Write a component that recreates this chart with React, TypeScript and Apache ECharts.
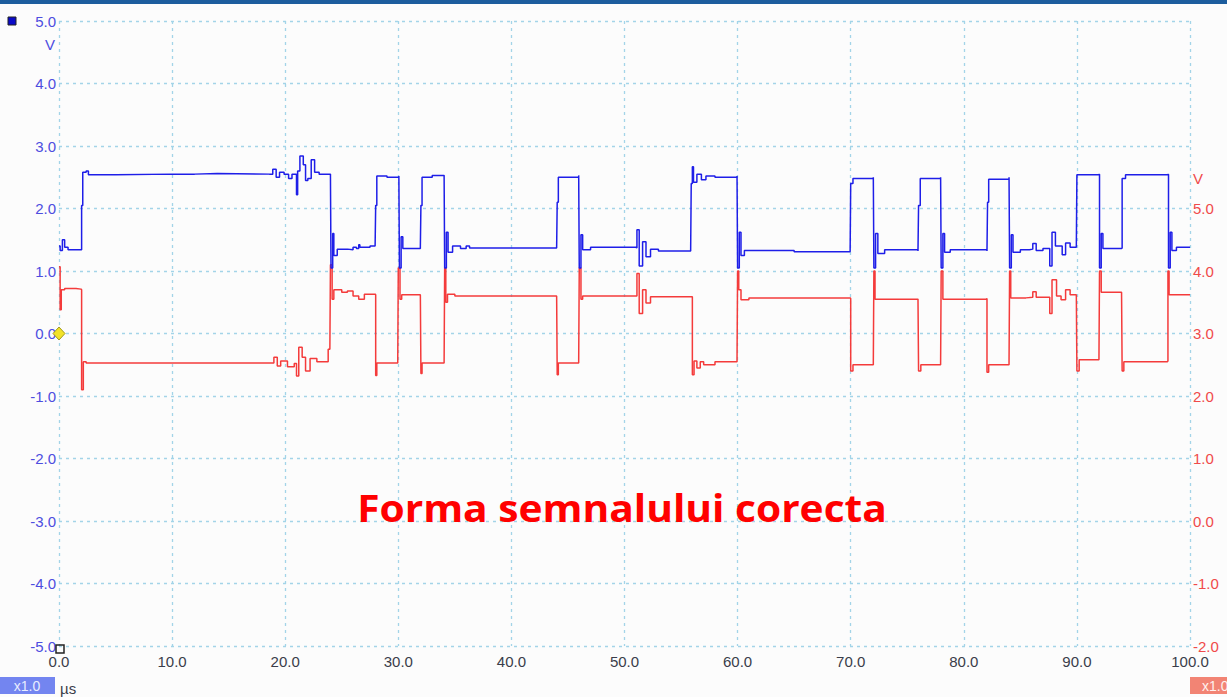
import React, { useEffect, useRef } from "react";
import * as echarts from "echarts";

// time ticks (µs) and voltage ticks
const timeTicks = [0, 10, 20, 30, 40, 50, 60, 70, 80, 90, 100];
const title = "Forma semnalului corecta";

// Channel A (blue, left axis, V): [time µs, volts]
const channelA: [number, number][] = [
  [0.0, 1.40], [0.1, 1.33], [0.3, 1.50], [0.5, 1.38], [0.8, 1.34], [2.0, 1.35],
  [2.0, 2.05], [2.1, 2.05], [2.1, 2.58], [2.4, 2.60], [2.6, 2.54], [5.0, 2.55],
  [10.0, 2.55], [12.0, 2.56], [14.0, 2.55], [18.6, 2.55], [18.9, 2.63], [19.2, 2.50],
  [19.5, 2.58], [19.9, 2.55], [20.3, 2.48], [20.6, 2.55], [21.0, 2.22], [21.1, 2.60],
  [21.3, 2.84], [21.6, 2.70], [21.8, 2.45], [22.0, 2.48], [22.3, 2.78], [22.6, 2.58],
  [23.0, 2.55], [24.0, 2.55], [24.05, 1.05], [24.2, 1.60], [24.3, 1.25], [24.6, 1.35],
  [25.5, 1.34], [26.0, 1.38], [26.3, 1.36], [26.5, 1.42], [26.6, 1.38], [27.5, 1.40],
  [27.95, 1.40], [28.0, 2.05], [28.1, 2.52], [29.0, 2.50], [30.05, 2.52], [30.1, 1.05],
  [30.25, 1.55], [30.4, 1.36], [31.95, 1.38], [32.0, 2.05], [32.1, 2.50], [33.0, 2.53],
  [34.05, 2.53], [34.1, 1.05], [34.25, 1.62], [34.4, 1.30], [34.8, 1.40], [35.5, 1.36],
  [36.0, 1.40], [36.3, 1.37], [44.0, 1.37], [44.05, 2.10], [44.15, 2.50], [45.95, 2.53],
  [46.0, 1.05], [46.15, 1.58], [46.3, 1.34], [47.0, 1.38], [51.0, 1.37], [51.1, 1.66],
  [51.3, 1.08], [51.6, 1.47], [51.9, 1.23], [52.3, 1.35], [53.0, 1.32], [55.85, 1.34],
  [55.9, 2.40], [56.0, 2.67], [56.1, 2.42], [56.4, 2.55], [56.8, 2.46], [57.2, 2.52],
  [58.0, 2.50], [59.95, 2.52], [60.0, 1.05], [60.15, 1.62], [60.3, 1.25], [60.6, 1.33],
  [65.0, 1.31], [69.95, 1.31], [70.0, 2.40], [70.2, 2.48], [72.0, 2.50], [72.05, 1.05],
  [72.2, 1.60], [72.4, 1.28], [73.0, 1.34], [75.95, 1.32], [76.0, 2.05], [76.15, 2.48],
  [77.95, 2.50], [78.0, 1.05], [78.15, 1.60], [78.3, 1.30], [78.8, 1.34], [82.05, 1.32],
  [82.1, 2.10], [82.2, 2.47], [84.0, 2.50], [84.05, 1.05], [84.2, 1.58], [84.35, 1.30],
  [85.0, 1.34], [85.8, 1.35], [86.1, 1.44], [86.4, 1.33], [87.0, 1.36], [87.6, 1.08],
  [87.8, 1.62], [88.1, 1.40], [88.7, 1.26], [89.0, 1.45], [89.4, 1.38], [89.95, 1.38],
  [90.0, 2.54], [91.95, 2.55], [92.0, 1.05], [92.15, 1.60], [92.3, 1.36], [93.95, 1.37],
  [94.0, 2.48], [94.3, 2.54], [98.05, 2.55], [98.1, 1.05], [98.25, 1.62], [98.4, 1.33],
  [98.8, 1.38], [100.0, 1.37],
];

// Channel B (red, right axis, V): [time µs, volts]
const channelB: [number, number][] = [
  [0.0, 4.07], [0.1, 3.38], [0.2, 3.70], [0.5, 3.72], [1.5, 3.71], [1.95, 3.70],
  [2.0, 2.10], [2.15, 2.55], [2.4, 2.53], [5.0, 2.53], [18.6, 2.53], [19.0, 2.62],
  [19.3, 2.48], [19.6, 2.56], [20.2, 2.47], [20.8, 2.52], [21.0, 2.32], [21.2, 2.78],
  [21.5, 2.62], [21.8, 2.40], [22.2, 2.60], [22.8, 2.55], [23.7, 2.55], [23.8, 2.75],
  [23.95, 2.75], [24.0, 4.10], [24.15, 3.55], [24.3, 3.70], [25.0, 3.66], [25.5, 3.68],
  [26.0, 3.60], [26.5, 3.55], [27.0, 3.63], [27.95, 3.62], [28.0, 2.33], [28.1, 2.53],
  [29.95, 2.56], [30.0, 4.05], [30.15, 3.55], [30.3, 3.62], [31.95, 3.62], [32.0, 2.36],
  [32.1, 2.53], [34.05, 2.55], [34.1, 4.05], [34.2, 3.50], [34.35, 3.63], [35.0, 3.60],
  [44.0, 3.60], [44.05, 2.34], [44.15, 2.53], [45.95, 2.55], [46.0, 4.05], [46.15, 3.55],
  [46.3, 3.60], [51.0, 3.60], [51.1, 3.96], [51.3, 3.32], [51.6, 3.70], [51.9, 3.49],
  [52.3, 3.59], [55.9, 3.59], [56.0, 2.34], [56.15, 2.56], [56.4, 2.45], [56.7, 2.55],
  [57.0, 2.50], [58.0, 2.55], [59.95, 2.58], [60.0, 4.00], [60.1, 3.70], [60.3, 3.54],
  [61.0, 3.57], [69.95, 3.56], [70.0, 2.40], [70.2, 2.50], [72.0, 2.52], [72.05, 4.00],
  [72.15, 3.55], [75.95, 3.55], [76.0, 2.40], [76.2, 2.50], [77.95, 2.52], [78.0, 4.00],
  [78.15, 3.55], [82.0, 3.56], [82.05, 2.38], [82.2, 2.50], [84.0, 2.52], [84.05, 4.00],
  [84.15, 3.57], [85.5, 3.58], [86.1, 3.67], [86.4, 3.58], [87.6, 3.32], [87.8, 3.86],
  [88.2, 3.60], [88.6, 3.54], [89.0, 3.70], [89.4, 3.62], [89.95, 3.62], [90.0, 2.40],
  [90.2, 2.58], [91.95, 2.58], [92.0, 4.00], [92.15, 3.66], [93.95, 3.62], [94.0, 2.40],
  [94.15, 2.55], [98.0, 2.56], [98.05, 4.00], [98.15, 3.62], [100.0, 3.62],
];

const W = 1227;
const H = 697;

export default function App() {
  const ref = useRef<HTMLDivElement>(null);
  useEffect(() => {
    if (!ref.current) return;
    const chart = echarts.init(ref.current, undefined, { renderer: "svg" });
    const gridColor = "#a3d4e8";
    const font = "Liberation Sans, Arial, sans-serif";
    chart.setOption({
      animation: false,
      backgroundColor: "#fcfcfc",
      grid: { left: 59, right: 37, top: 21, bottom: 51, containLabel: false },
      xAxis: {
        type: "value",
        min: timeTicks[0],
        max: timeTicks[timeTicks.length - 1],
        interval: 10,
        axisLine: { show: false },
        axisTick: { show: false },
        axisLabel: {
          color: "#3a3d4a",
          fontSize: 15,
          fontFamily: font,
          margin: 8,
          formatter: (v: number) => v.toFixed(1),
        },
        splitLine: { show: true, lineStyle: { color: gridColor, type: [3, 4], width: 1.3 } },
      },
      yAxis: [
        {
          type: "value",
          min: -5,
          max: 5,
          interval: 1,
          axisLine: { show: false },
          axisTick: { show: false },
          axisLabel: {
            color: "#4d4de0",
            fontSize: 15,
            fontFamily: font,
            margin: 3,
            formatter: (v: number) => v.toFixed(1),
          },
          splitLine: { show: true, lineStyle: { color: gridColor, type: [3, 4], width: 1.3 } },
        },
        {
          type: "value",
          position: "right",
          min: -2,
          max: 8,
          interval: 1,
          axisLine: { show: false },
          axisTick: { show: false },
          splitLine: { show: false },
          axisLabel: {
            color: "#f04a4a",
            fontSize: 15,
            fontFamily: font,
            margin: 3,
            formatter: (v: number) => (v <= 5 ? v.toFixed(1) : ""),
          },
        },
      ],
      series: [
        {
          name: "B",
          type: "line",
          yAxisIndex: 1,
          data: channelB,
          step: "end",
          showSymbol: false,
          lineStyle: { color: "#f43b3b", width: 1.5 },
          itemStyle: { color: "#f43b3b" },
          z: 2,
        },
        {
          name: "A",
          type: "line",
          yAxisIndex: 0,
          data: channelA,
          step: "end",
          showSymbol: false,
          lineStyle: { color: "#1e1ee8", width: 1.5 },
          itemStyle: { color: "#1e1ee8" },
          z: 3,
        },
      ],
      graphic: [
        { type: "rect", shape: { x: 0, y: 0, width: W, height: 4 }, style: { fill: "#1d5d9e" } },
        {
          type: "rect",
          shape: { x: 8, y: 17, width: 8, height: 8 },
          style: { fill: "#0a0ac8", stroke: "#222", lineWidth: 1 },
        },
        {
          type: "text",
          x: 50,
          y: 44,
          style: { text: "V", fill: "#4d4de0", font: `15px ${font}`, align: "center", verticalAlign: "middle" },
        },
        {
          type: "text",
          x: 1193,
          y: 178,
          style: { text: "V", fill: "#f04a4a", font: `15px ${font}`, align: "left", verticalAlign: "middle" },
        },
        {
          type: "polygon",
          shape: { points: [[59, 327], [65, 333.5], [59, 340], [53, 333.5]] },
          style: { fill: "#f2e228", stroke: "#a09a20", lineWidth: 1 },
          z: 10,
        },
        {
          type: "rect",
          shape: { x: 56, y: 645, width: 8, height: 8 },
          style: { fill: "none", stroke: "#222", lineWidth: 1.5 },
          z: 10,
        },
        { type: "rect", shape: { x: 0, y: 677, width: 55, height: 17 }, style: { fill: "#7385f0" } },
        {
          type: "text",
          x: 27,
          y: 686,
          style: { text: "x1.0", fill: "#e8ecff", font: `14px ${font}`, align: "center", verticalAlign: "middle" },
        },
        {
          type: "text",
          x: 60,
          y: 688,
          style: { text: "µs", fill: "#3a3d4a", font: `15px ${font}`, align: "left", verticalAlign: "middle" },
        },
        { type: "rect", shape: { x: 1190, y: 677, width: 37, height: 17 }, style: { fill: "#f28474" } },
        {
          type: "text",
          x: 1202,
          y: 686,
          style: { text: "x1.0", fill: "#fff0ee", font: `14px ${font}`, align: "left", verticalAlign: "middle" },
        },
        {
          type: "text",
          x: 622,
          y: 507,
          scaleX: 1.1,
          style: {
            text: title,
            fill: "#ff0000",
            font: `bold 37px "Open Sans", sans-serif`,
            align: "center",
            verticalAlign: "middle",
          },
          z: 20,
        },
      ],
    });
    return () => chart.dispose();
  }, []);
  return (
    <div
      ref={ref}
      style={{ position: "absolute", left: 0, top: 0, width: W, height: H }}
    />
  );
}
